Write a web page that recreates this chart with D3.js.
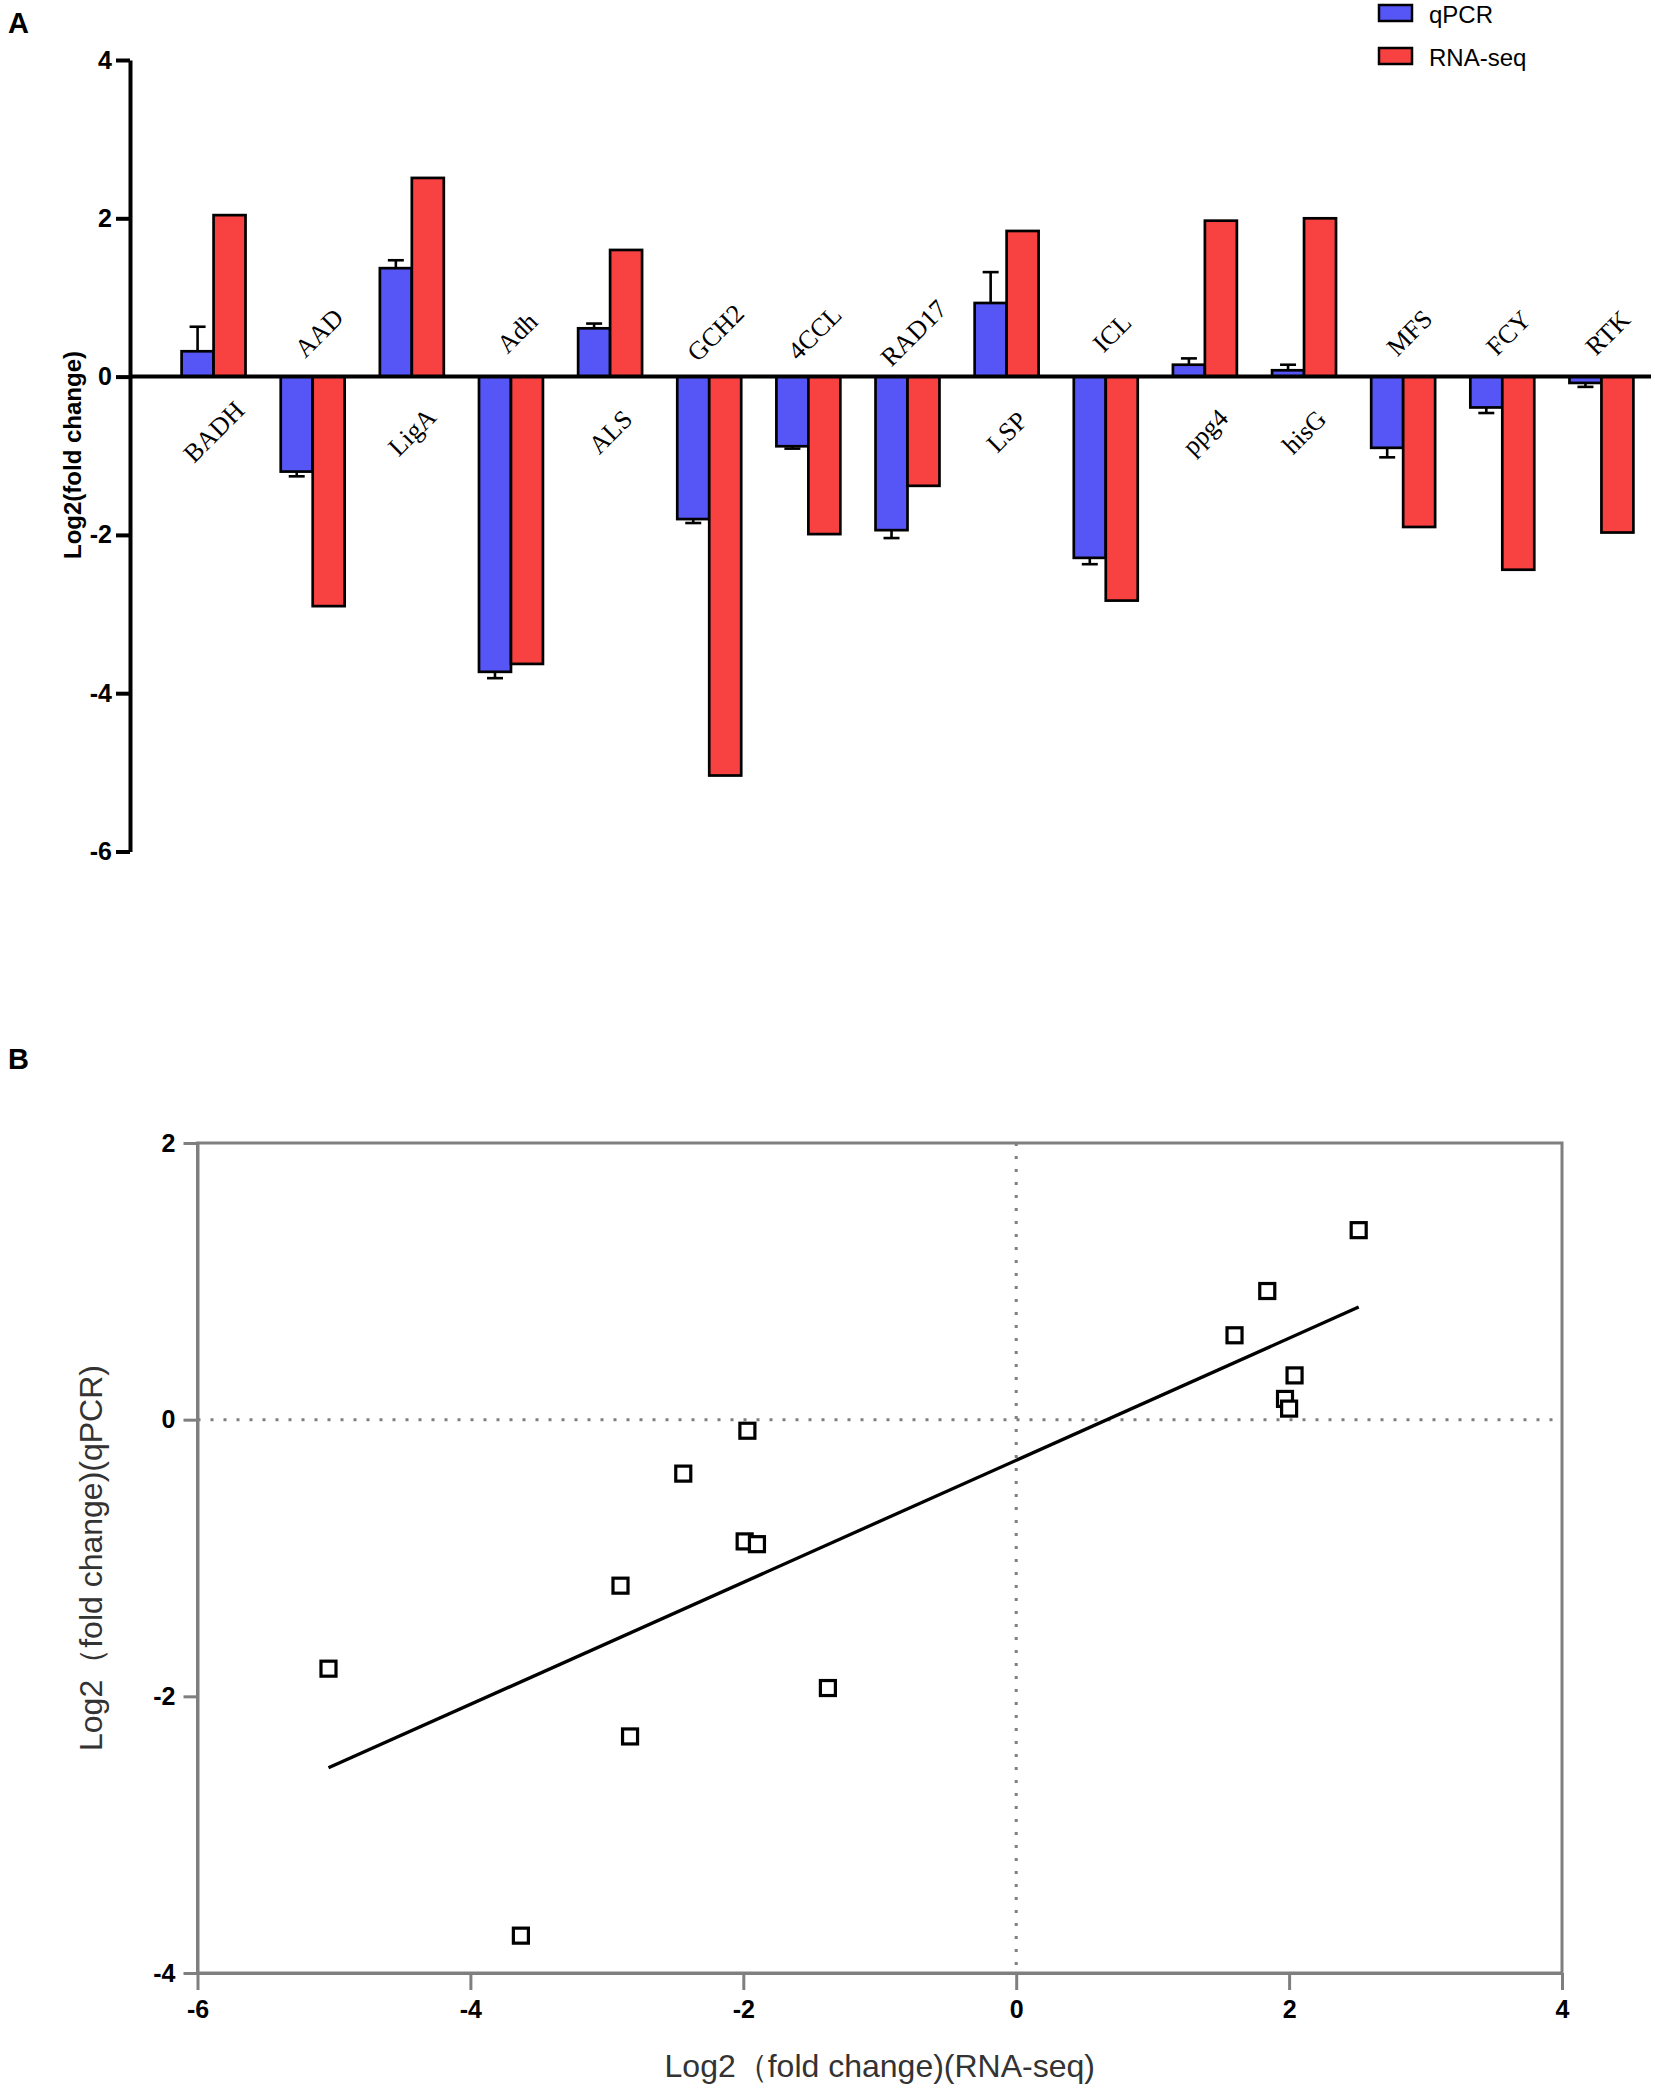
<!DOCTYPE html>
<html>
<head>
<meta charset="utf-8">
<script src="https://cdn.jsdelivr.net/npm/d3@7"></script>
<style>
  body { margin: 0; background: #fff; }
  svg { display: block; }
</style>
</head>
<body>
<div id="chart"></div>
<script>
// genes and log2 fold changes
var genes = ["BADH", "AAD", "LigA", "Adh", "ALS", "GCH2", "4CCL", "RAD17", "LSP", "ICL", "ppg4", "hisG", "MFS", "FCY", "RTK"];
var qpcr = [0.32, -1.2, 1.37, -3.73, 0.61, -1.8, -0.88, -1.94, 0.93, -2.29, 0.15, 0.08, -0.9, -0.39, -0.08];
var qpcrErr = [0.31, 0.06, 0.1, 0.08, 0.06, 0.05, 0.03, 0.1, 0.39, 0.08, 0.08, 0.07, 0.12, 0.07, 0.05];
var rnaseq = [2.04, -2.9, 2.51, -3.63, 1.6, -5.04, -1.99, -1.38, 1.84, -2.83, 1.97, 2.0, -1.9, -2.44, -1.97];

var seriesNames = ["qPCR", "RNA-seq"];
var seriesColors = ["#5656f6", "#f84141"];

var yTicksA = [-6, -4, -2, 0, 2, 4];
var xTicksB = [-6, -4, -2, 0, 2, 4];
var yTicksB = [-4, -2, 0, 2];

var W = 1655, H = 2088;
// plain hyphen for negatives, like the original
var fmt = function(d) { return String(d); };

var svg = d3.select("#chart").append("svg")
  .attr("width", W)
  .attr("height", H)
  .style("font-family", "Arial, 'Liberation Sans', Helvetica, sans-serif");

//------------------------------------------------------------ panel A
svg.append("text")
  .attr("x", 8).attr("y", 33)
  .attr("font-size", 29).attr("font-weight", "bold")
  .text("A");

var yA = d3.scaleLinear().domain([-6, 4]).range([851.5, 60]);
var xA = d3.scaleBand().domain(genes).range([164, 1651])
  .paddingInner(0.355).paddingOuter(0.1775);
var xSub = d3.scaleBand().domain(seriesNames).range([0, xA.bandwidth()]);

var rows = genes.map(function(g, i) {
  return { gene: g, i: i, vals: [qpcr[i], rnaseq[i]], err: qpcrErr[i] };
});

var groups = svg.append("g").selectAll("g")
  .data(rows)
  .enter().append("g")
  .attr("transform", function(d) { return "translate(" + xA(d.gene) + ",0)"; });

// error bars first so the bar outline sits over them
groups.each(function(d) {
  var g = d3.select(this);
  var cx = xSub("qPCR") + xSub.bandwidth() / 2;
  var end = d.vals[0] >= 0 ? d.vals[0] + d.err : d.vals[0] - d.err;
  g.append("line")
    .attr("x1", cx).attr("x2", cx)
    .attr("y1", yA(d.vals[0])).attr("y2", yA(end))
    .attr("stroke", "#000").attr("stroke-width", 2.6);
  g.append("line")
    .attr("x1", cx - 8).attr("x2", cx + 8)
    .attr("y1", yA(end)).attr("y2", yA(end))
    .attr("stroke", "#000").attr("stroke-width", 2.6);
});

groups.selectAll("rect")
  .data(function(d) {
    return d.vals.map(function(v, k) { return { key: seriesNames[k], value: v, k: k }; });
  })
  .enter().append("rect")
  .attr("x", function(d) { return xSub(d.key); })
  .attr("width", xSub.bandwidth())
  .attr("y", function(d) { return yA(Math.max(0, d.value)); })
  .attr("height", function(d) { return Math.abs(yA(d.value) - yA(0)); })
  .attr("fill", function(d) { return seriesColors[d.k]; })
  .attr("stroke", "#000").attr("stroke-width", 2.7);

// zero line across the plot
svg.append("line")
  .attr("x1", 129).attr("x2", xA.range()[1])
  .attr("y1", yA(0)).attr("y2", yA(0))
  .attr("stroke", "#000").attr("stroke-width", 4);

// gene names: under the line when the bars go up, over it when they go down
svg.append("g").selectAll("text")
  .data(rows)
  .enter().append("text")
  .attr("transform", function(d) {
    var up = d.vals[1] > 0;
    var cx = xA(d.gene) + xA.bandwidth() / 2 + (up ? 0 : 6);
    var cy = up ? yA(0) + 55 : yA(0) - 44;
    return "translate(" + cx + "," + cy + ") rotate(-45)";
  })
  .attr("text-anchor", "middle")
  .attr("dy", "0.35em")
  .attr("font-family", "'Liberation Serif', 'Times New Roman', serif")
  .attr("font-size", 26)
  .text(function(d) { return d.gene; });

var axisA = svg.append("g")
  .attr("transform", "translate(130,0)")
  .call(d3.axisLeft(yA).tickValues(yTicksA).tickFormat(fmt).tickSize(14).tickSizeOuter(0).tickPadding(4));
axisA.select(".domain").attr("stroke-width", 4);
axisA.selectAll(".tick line").attr("stroke-width", 4);
axisA.selectAll(".tick text")
  .attr("font-size", 25).attr("font-weight", "bold")
  .attr("font-family", "Arial, 'Liberation Sans', sans-serif");

svg.append("text")
  .attr("transform", "translate(73,455) rotate(-90)")
  .attr("text-anchor", "middle").attr("dy", "0.35em")
  .attr("font-size", 24).attr("font-weight", "bold")
  .text("Log2(fold change)");

// legend
var legend = svg.append("g").selectAll("g")
  .data(seriesNames)
  .enter().append("g")
  .attr("transform", function(d, i) { return "translate(1379," + (5 + i * 43) + ")"; });
legend.append("rect")
  .attr("width", 33).attr("height", 16)
  .attr("fill", function(d, i) { return seriesColors[i]; })
  .attr("stroke", "#000").attr("stroke-width", 2.5);
legend.append("text")
  .attr("x", 50).attr("y", 18)
  .attr("font-size", 24)
  .text(function(d) { return d; });

//------------------------------------------------------------ panel B
svg.append("text")
  .attr("x", 8).attr("y", 1069)
  .attr("font-size", 29).attr("font-weight", "bold")
  .text("B");

var xB = d3.scaleLinear().domain([-6, 4]).range([197.5, 1562]);
var yB = d3.scaleLinear().domain([-4, 2]).range([1973, 1143]);
var grey = "#7f7f7f";

// zero reference lines
svg.append("line")
  .attr("x1", xB(0)).attr("x2", xB(0))
  .attr("y1", yB(2)).attr("y2", yB(-4))
  .attr("stroke", grey).attr("stroke-width", 3).attr("stroke-dasharray", "3,10");
svg.append("line")
  .attr("x1", xB(-6)).attr("x2", xB(4))
  .attr("y1", yB(0)).attr("y2", yB(0))
  .attr("stroke", grey).attr("stroke-width", 3).attr("stroke-dasharray", "3,10");

svg.append("rect")
  .attr("x", xB(-6)).attr("y", yB(2))
  .attr("width", xB(4) - xB(-6)).attr("height", yB(-4) - yB(2))
  .attr("fill", "none").attr("stroke", grey).attr("stroke-width", 3);

var axB = svg.append("g")
  .attr("transform", "translate(0," + yB(-4) + ")")
  .call(d3.axisBottom(xB).tickValues(xTicksB).tickFormat(fmt).tickSize(17).tickSizeOuter(0).tickPadding(10));
var ayB = svg.append("g")
  .attr("transform", "translate(" + xB(-6) + ",0)")
  .call(d3.axisLeft(yB).tickValues(yTicksB).tickFormat(fmt).tickSize(14).tickSizeOuter(0).tickPadding(8));
[axB, ayB].forEach(function(ax) {
  ax.select(".domain").attr("stroke", grey).attr("stroke-width", 3);
  ax.selectAll(".tick line").attr("stroke", grey).attr("stroke-width", 3);
  ax.selectAll(".tick text")
    .attr("font-size", 25).attr("font-weight", "bold")
    .attr("font-family", "Arial, 'Liberation Sans', sans-serif");
});

// least squares fit of qPCR on RNA-seq
var mx = d3.mean(rnaseq), my = d3.mean(qpcr);
var sxy = d3.sum(rnaseq, function(v, i) { return (v - mx) * (qpcr[i] - my); });
var sxx = d3.sum(rnaseq, function(v) { return (v - mx) * (v - mx); });
var slope = sxy / sxx, icpt = my - slope * mx;
var ext = d3.extent(rnaseq);

svg.append("line")
  .attr("x1", xB(ext[0])).attr("y1", yB(slope * ext[0] + icpt))
  .attr("x2", xB(ext[1])).attr("y2", yB(slope * ext[1] + icpt))
  .attr("stroke", "#000").attr("stroke-width", 3.3);

var sq = 15;
svg.append("g").selectAll("rect")
  .data(rows)
  .enter().append("rect")
  .attr("x", function(d) { return xB(d.vals[1]) - sq / 2; })
  .attr("y", function(d) { return yB(d.vals[0]) - sq / 2; })
  .attr("width", sq).attr("height", sq)
  .attr("fill", "#fff")
  .attr("stroke", "#000").attr("stroke-width", 3.2);

svg.append("text")
  .attr("x", (xB(-6) + xB(4)) / 2).attr("y", 2077)
  .attr("text-anchor", "middle")
  .attr("font-size", 32).attr("fill", "#333")
  .text("Log2（fold change)(RNA-seq)");

svg.append("text")
  .attr("transform", "translate(91," + (yB(-4) + yB(2)) / 2 + ") rotate(-90)")
  .attr("text-anchor", "middle").attr("dy", "0.35em")
  .attr("font-size", 32).attr("fill", "#333")
  .text("Log2（fold change)(qPCR)");
</script>
</body>
</html>
